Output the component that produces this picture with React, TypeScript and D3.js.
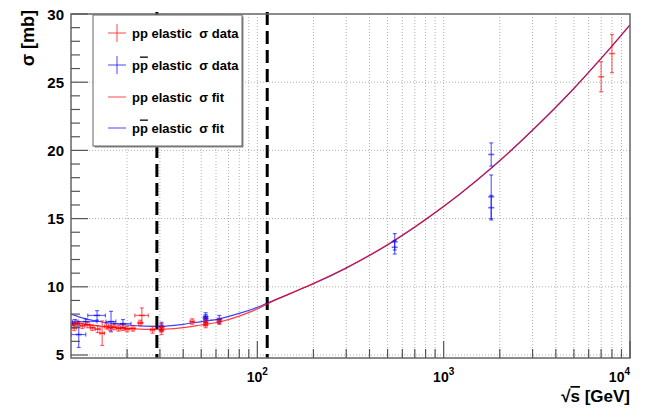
import React from "react";
import * as d3 from "d3";

// ---- data ----
const fitE = [10, 12, 15, 20, 25, 30, 40, 50, 62.5, 80, 100, 113, 150, 200, 300, 500, 700, 1000, 1500, 2000, 3000, 5000, 7000, 8000, 10000];
const fitPP = [7.4, 7.25, 7.08, 6.95, 6.88, 6.88, 7.0, 7.2, 7.42, 7.85, 8.38, 8.75, 9.5, 10.25, 11.4, 13.1, 14.4, 15.9, 17.8, 19.25, 21.5, 24.55, 26.75, 27.65, 29.2];
const fitPPbar = [8.0, 7.65, 7.4, 7.2, 7.12, 7.1, 7.25, 7.45, 7.65, 8.05, 8.5, 8.8, 9.5, 10.22, 11.37, 13.07, 14.37, 15.88, 17.78, 19.24, 21.48, 24.54, 26.74, 27.64, 29.2];

const ppE = [10.0, 10.4, 10.8, 11.5, 12.3, 13.0, 13.9, 14.7, 15.5, 16.2, 17.0, 18.0, 19.0, 20.0, 21.5, 23.5, 24.0, 27.4, 30.6, 30.6, 44.7, 52.8, 52.8, 62.5, 7000, 8000];
const ppS = [7.2, 7.0, 7.3, 7.15, 7.2, 7.0, 6.9, 6.6, 7.1, 7.0, 7.05, 6.95, 7.0, 6.9, 6.95, 7.35, 7.9, 6.85, 7.0, 6.8, 7.45, 7.4, 7.2, 7.45, 25.4, 27.1];
const ppEx = [0.3, 0.3, 0.3, 0.3, 0.3, 0.3, 0.4, 0.4, 0.4, 0.4, 0.4, 0.4, 0.5, 0.5, 0.5, 0.5, 2.0, 0.6, 0.5, 0.5, 1.0, 1.0, 1.0, 1.2, 0, 0];
const ppEy = [0.2, 0.2, 0.25, 0.2, 0.2, 0.2, 0.25, 0.9, 0.2, 0.2, 0.2, 0.2, 0.2, 0.2, 0.2, 0.2, 0.55, 0.25, 0.3, 0.3, 0.2, 0.2, 0.2, 0.2, 1.1, 1.4];

const pbE = [10.5, 11.0, 12.0, 13.8, 16.4, 19.0, 30.6, 52.8, 52.8, 62.5, 546, 546, 1800, 1800, 1800];
const pbS = [7.3, 6.5, 7.45, 7.9, 7.45, 7.3, 7.1, 7.8, 7.65, 7.6, 13.3, 12.9, 19.7, 16.6, 15.8];
const pbEx = [0.3, 1.0, 1.8, 1.5, 1.0, 2.0, 0.5, 1.0, 1.0, 1.0, 0, 0, 0, 0, 0];
const pbEy = [0.3, 0.95, 0.2, 0.35, 0.75, 0.3, 0.3, 0.3, 0.3, 0.3, 0.6, 0.5, 0.85, 1.6, 0.9];

const dashedE = [28.9, 113];
const yTicksMajor = [5, 10, 15, 20, 25, 30];
const xDecades = [100, 1000, 10000];
const xDecadeExp = ["2", "3", "4"];

const RED = "rgba(255,0,0,0.6)";
const BLUE = "rgba(0,0,255,0.6)";

const W = 650, H = 411;
const L = 71, R = 630, T = 14, B = 358;

export default function App() {
  const x = d3.scaleLog().domain([10, 10000]).range([L, R]);
  const y = d3.scaleLinear().domain([4.78, 30]).range([B, T]);

  const line = d3.line<number>().x((_, i) => x(fitE[i])).y((d) => y(d)).curve(d3.curveMonotoneX);

  const xMinor: number[] = [];
  [10, 100, 1000].forEach((dec) => { for (let k = 2; k <= 9; k++) xMinor.push(dec * k); });
  const yMinor: number[] = [];
  for (let v = 5; v <= 30; v++) if (v % 5 !== 0) yMinor.push(v);

  const font = "'Liberation Sans', Arial, Helvetica, sans-serif";

  const errBars = (E: number[], S: number[], Ex: number[], Ey: number[], color: string, key: string) =>
    E.map((e, i) => {
      const cx = x(e), cy = y(S[i]);
      const x0 = x(Math.max(10, e - Ex[i])), x1 = x(e + Ex[i]);
      const y0 = y(S[i] - Ey[i]), y1 = y(S[i] + Ey[i]);
      return (
        <g key={key + i} stroke={color} strokeWidth={1.2} fill="none">
          <line x1={cx} x2={cx} y1={y0} y2={y1} />
          <line x1={cx - 2} x2={cx + 2} y1={y0} y2={y0} />
          <line x1={cx - 2} x2={cx + 2} y1={y1} y2={y1} />
          {Ex[i] > 0 && (
            <>
              <line x1={x0} x2={x1} y1={cy} y2={cy} />
              <line x1={x0} x2={x0} y1={cy - 2} y2={cy + 2} />
              <line x1={x1} x2={x1} y1={cy - 2} y2={cy + 2} />
            </>
          )}
          <line x1={cx - 3} x2={cx + 3} y1={cy} y2={cy} strokeWidth={1.6} />
        </g>
      );
    });

  const legendRows = [
    { type: "data", color: RED, bar: false, text: "data" },
    { type: "data", color: BLUE, bar: true, text: "data" },
    { type: "fit", color: RED, bar: false, text: "fit" },
    { type: "fit", color: BLUE, bar: true, text: "fit" },
  ];
  const rowY = [33, 65, 97, 128];

  return (
    <svg width={W} height={H} style={{ position: "absolute", left: 0, top: 0, background: "#fff" }} fontFamily={font}>
      <defs>
        <clipPath id="plot"><rect x={L} y={T} width={R - L} height={B - T} /></clipPath>
      </defs>
      {/* grid */}
      <g stroke="#b0b0b0" strokeWidth={1} strokeDasharray="1,2">
        {[...xMinor, ...xDecades.slice(0, 2)].map((v) => (
          <line key={"gx" + v} x1={x(v)} x2={x(v)} y1={T} y2={B} />
        ))}
        {yTicksMajor.slice(0, 5).map((v) => (
          <line key={"gy" + v} x1={L} x2={R} y1={y(v)} y2={y(v)} />
        ))}
      </g>
      {/* dashed lines */}
      <g stroke="#000" strokeWidth={3} strokeDasharray="13,6">
        {dashedE.map((e) => (
          <line key={"d" + e} x1={x(e)} x2={x(e)} y1={12} y2={B} />
        ))}
      </g>
      {/* curves */}
      <g clipPath="url(#plot)" fill="none">
        <path d={line(fitPPbar) || ""} stroke="rgba(0,0,255,0.75)" strokeWidth={1.2} />
        <path d={line(fitPP) || ""} stroke="rgba(255,0,0,0.75)" strokeWidth={1.2} />
      </g>
      {/* data */}
      <g clipPath="url(#plot)">
        {errBars(pbE, pbS, pbEx, pbEy, BLUE, "pb")}
        {errBars(ppE, ppS, ppEx, ppEy, RED, "pp")}
      </g>
      {/* frame and ticks */}
      <rect x={L} y={T} width={R - L} height={B - T} fill="none" stroke="#666" strokeWidth={1.5} />
      <g stroke="#555" strokeWidth={1.2}>
        {yTicksMajor.map((v) => (
          <line key={"ty" + v} x1={L} x2={L + 17} y1={y(v)} y2={y(v)} />
        ))}
        {yMinor.map((v) => (
          <line key={"tym" + v} x1={L} x2={L + 9} y1={y(v)} y2={y(v)} />
        ))}
        {xDecades.map((v) => (
          <line key={"tx" + v} x1={x(v)} x2={x(v)} y1={B} y2={B - 17} />
        ))}
        {xMinor.map((v) => (
          <line key={"txm" + v} x1={x(v)} x2={x(v)} y1={B} y2={B - 9} />
        ))}
      </g>
      {/* tick labels */}
      <g fontSize={15} fontWeight="bold" fill="#000">
        {yTicksMajor.map((v) => (
          <text key={"ly" + v} x={64} y={y(v) + 5.5} textAnchor="end">{v}</text>
        ))}
        {xDecades.map((v, i) => (
          <text key={"lx" + v} x={i === 2 ? R : x(v)} y={382} textAnchor={i === 2 ? "end" : "middle"} fontSize={14}>
            10<tspan fontSize={10} dy={-7}>{xDecadeExp[i]}</tspan>
          </text>
        ))}
      </g>
      {/* axis titles */}
      <text x={630} y={402} textAnchor="end" fontSize={17} fontWeight="bold">
        √<tspan style={{ textDecoration: "overline" }}>s</tspan> [GeV]
      </text>
      <text transform="translate(34,10) rotate(-90)" textAnchor="end" fontSize={18} fontWeight="bold">σ [mb]</text>
      {/* legend */}
      <rect x={94.5} y={16.5} width={149} height={131} fill="#888" />
      <rect x={93} y={15} width={149} height={131} fill="#fff" stroke="#666" strokeWidth={1} />
      {legendRows.map((r, i) => (
        <g key={"leg" + i}>
          {r.type === "data" ? (
            <g stroke={r.color} strokeWidth={1.2}>
              <line x1={108} x2={126} y1={rowY[i]} y2={rowY[i]} />
              <line x1={117} x2={117} y1={rowY[i] - 9} y2={rowY[i] + 9} />
            </g>
          ) : (
            <line x1={108} x2={126} y1={rowY[i]} y2={rowY[i]} stroke={r.color} strokeWidth={1.2} />
          )}
          <text x={132} y={rowY[i] + 4.5} fontSize={13} fontWeight="bold">
            p{r.bar ? <tspan style={{ textDecoration: "overline" }}>p</tspan> : "p"} elastic{"\u00A0"} σ {r.text}
          </text>
        </g>
      ))}
    </svg>
  );
}
